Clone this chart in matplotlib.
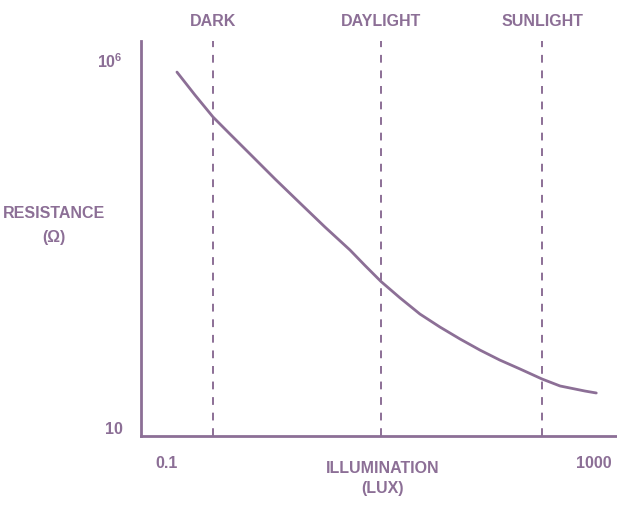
import matplotlib
matplotlib.use("Agg")
import matplotlib.pyplot as plt
import matplotlib.transforms as mtransforms

# Data (log-log)
illumination_lux = [0.124, 0.183, 0.270, 0.389, 0.600, 1.03, 1.76, 3.02, 5.18, 7.16, 10.1,
                    15.2, 23.4, 36.1, 55.6, 85.5, 131, 203, 326, 481, 825, 1050]
resistance_ohm = [665000, 324000, 163000, 95700, 51200, 23400, 11050, 5210, 2540, 1565, 950,
                  570, 343, 228, 157, 111, 81.3, 61.4, 44.9, 36.1, 30.8, 29.0]

regions = ["DARK", "DAYLIGHT", "SUNLIGHT"]
region_lux = [0.27, 10.1, 326]

x_ticks = [0.1, 1000]
x_tick_labels = ["0.1", "1000"]
y_ticks = [10, 1e6]
y_tick_labels = ["10", "$\\mathregular{10^6}$"]

color = "#8c6f96"
font = ["Liberation Sans", "DejaVu Sans"]
fs = 11.5

fig = plt.figure(figsize=(6.17, 5.06), dpi=100)
ax = fig.add_axes([141 / 617, (506 - 437) / 506, (617 - 141) / 617, (437 - 42) / 506])
ax.set_xscale("log")
ax.set_yscale("log")
ax.set_xlim(0.0571, 1642)
ax.set_ylim(7.55, 1.758e6)

ax.plot(illumination_lux, resistance_ohm, color=color, lw=2.0, solid_capstyle="round",
        solid_joinstyle="round")

trans = mtransforms.blended_transform_factory(ax.transData, fig.transFigure)
for name, lx in zip(regions, region_lux):
    ax.axvline(lx, color=color, lw=1.4, ls=(0, (4, 4)))
    ax.text(lx, 1 - 21 / 506, name, transform=trans, ha="center", va="center",
            color=color, fontsize=fs, fontweight="bold", family=font, clip_on=False)

for side in ["top", "right"]:
    ax.spines[side].set_visible(False)
for side in ["left", "bottom"]:
    ax.spines[side].set_color(color)
    ax.spines[side].set_linewidth(2.0)

ax.minorticks_off()
ax.set_xticks(x_ticks)
ax.set_xticklabels(x_tick_labels)
ax.set_yticks(y_ticks)
ax.set_yticklabels(y_tick_labels)
ax.tick_params(axis="both", length=0, colors=color, labelsize=fs)
ax.tick_params(axis="x", pad=14)
ax.tick_params(axis="y", pad=13)
for lab in ax.get_xticklabels() + ax.get_yticklabels():
    lab.set_fontweight("bold")
    lab.set_family(font)

fig.text(54 / 617, 1 - 214 / 506, "RESISTANCE", ha="center", va="center",
         color=color, fontsize=fs, fontweight="bold", family=font)
fig.text(54 / 617, 1 - 238 / 506, "(Ω)", ha="center", va="center",
         color=color, fontsize=fs, fontweight="bold", family=font)
fig.text(383 / 617, 1 - 469 / 506, "ILLUMINATION", ha="center", va="center",
         color=color, fontsize=fs, fontweight="bold", family=font)
fig.text(383 / 617, 1 - 489 / 506, "(LUX)", ha="center", va="center",
         color=color, fontsize=fs, fontweight="bold", family=font)

fig.savefig("out.png", dpi=100)
